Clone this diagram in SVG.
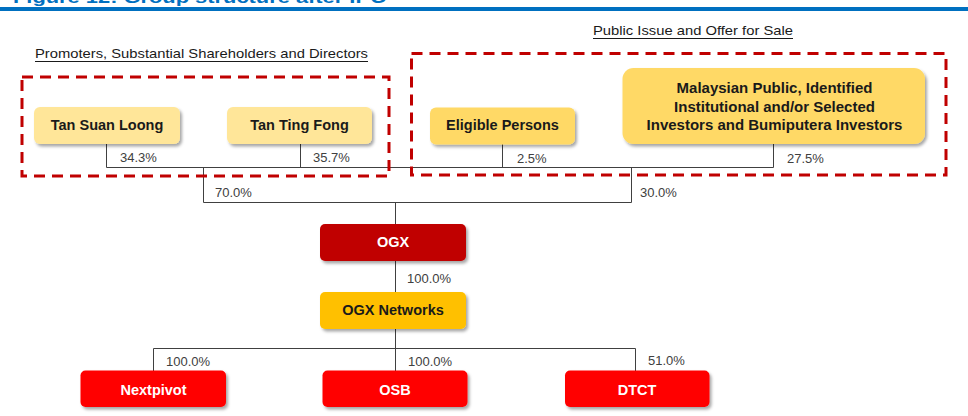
<svg xmlns="http://www.w3.org/2000/svg" width="968" height="416" viewBox="0 0 968 416">
  <defs>
    <filter id="shadow" x="-10%" y="-20%" width="125%" height="150%">
      <feDropShadow dx="2" dy="2.5" stdDeviation="1.5" flood-color="#000" flood-opacity="0.35"/>
    </filter>
  </defs>
  <style>
    .title { font-family: "Liberation Sans", Arial, sans-serif; font-weight: bold; font-size: 17px; fill: #0070C0; }
    .head { font-family: "Liberation Sans", Arial, sans-serif; font-size: 13.5px; fill: #1a1a1a; }
    .ul { stroke: #1a1a1a; stroke-width: 1; }
    .dash { fill: none; stroke: #C00000; stroke-width: 3; stroke-dasharray: 11 7; }
    .lbl { font-family: "Liberation Sans", Arial, sans-serif; font-weight: bold; font-size: 14.5px; fill: #1a1a1a; text-anchor: middle; }
    .big { font-size: 15px; }
    .wlbl { font-family: "Liberation Sans", Arial, sans-serif; font-weight: bold; font-size: 14.5px; fill: #ffffff; text-anchor: middle; }
    .pct { font-family: "Liberation Sans", Arial, sans-serif; font-size: 13px; fill: #404040; }
    .conn { fill: none; stroke: #404040; stroke-width: 1; }
    .lightY { fill: #FFE699; filter: url(#shadow); }
    .midY { fill: #FFD966; filter: url(#shadow); }
    .amber { fill: #FFC000; filter: url(#shadow); }
    .dark { fill: #C00000; filter: url(#shadow); }
    .red { fill: #FF0000; filter: url(#shadow); }
  </style>

  <rect width="968" height="416" fill="#ffffff"/>

  <!-- header (cut off at the top edge, as in the reference) -->
  <text class="title" x="13" y="2.5" textLength="374" lengthAdjust="spacingAndGlyphs">Figure 12: Group structure after IPO</text>
  <rect x="0" y="7" width="968" height="4" fill="#0070C0"/>

  <!-- group headings -->
  <g id="heading-promoters">
    <text class="head" x="35" y="58" textLength="333" lengthAdjust="spacingAndGlyphs">Promoters, Substantial Shareholders and Directors</text>
    <line class="ul" x1="35" y1="61.5" x2="368" y2="61.5"/>
  </g>
  <g id="heading-public">
    <text class="head" x="593" y="35" textLength="200" lengthAdjust="spacingAndGlyphs">Public Issue and Offer for Sale</text>
    <line class="ul" x1="593" y1="38.5" x2="793" y2="38.5"/>
  </g>

  <!-- connectors -->
  <g id="connectors">
    <path class="conn" d="M106.5,144 V167.5 M300.5,144 V167.5 M502.5,144 V167.5 M773.5,144 V167.5 M106.5,167.5 H773.5"/>
    <path class="conn" d="M203.5,167.5 V202.5 M631.5,167.5 V202.5 M203.5,202.5 H631.5 M395.5,202.5 V224"/>
    <path class="conn" d="M395.5,261 V292"/>
    <path class="conn" d="M395.5,329 V371 M153.5,348.5 H635.5 M153.5,348.5 V371 M635.5,348.5 V371"/>
    <text class="pct" x="120" y="162">34.3%</text>
    <text class="pct" x="313" y="162">35.7%</text>
    <text class="pct" x="517" y="163">2.5%</text>
    <text class="pct" x="787" y="163">27.5%</text>
    <text class="pct" x="215" y="197">70.0%</text>
    <text class="pct" x="640" y="197">30.0%</text>
    <text class="pct" x="407" y="283">100.0%</text>
    <text class="pct" x="166" y="365.5">100.0%</text>
    <text class="pct" x="408" y="365.5">100.0%</text>
    <text class="pct" x="648" y="364.5">51.0%</text>
  </g>

  <!-- dashed group boxes -->
  <rect id="box-promoters" class="dash" x="22" y="77" width="367" height="99"/>
  <rect id="box-public" class="dash" x="411.5" y="53.5" width="534.5" height="121.5"/>

  <!-- nodes -->
  <g id="tan-suan-loong">
    <rect class="lightY" x="34" y="107" width="146" height="37" rx="6"/>
    <text class="lbl" x="107" y="130">Tan Suan Loong</text>
  </g>
  <g id="tan-ting-fong">
    <rect class="lightY" x="227" y="107" width="145" height="37" rx="6"/>
    <text class="lbl" x="299.5" y="130">Tan Ting Fong</text>
  </g>
  <g id="eligible-persons">
    <rect class="midY" x="430" y="107.5" width="145" height="37" rx="6"/>
    <text class="lbl" x="502.5" y="130">Eligible Persons</text>
  </g>
  <g id="malaysian-public">
    <rect class="midY" x="622.5" y="68" width="302.5" height="76" rx="11"/>
    <text class="lbl big" x="774.5" y="93">Malaysian Public, Identified</text>
    <text class="lbl big" x="774.5" y="111.5">Institutional and/or Selected</text>
    <text class="lbl big" x="774.5" y="130">Investors and Bumiputera Investors</text>
  </g>
  <g id="ogx">
    <rect class="dark" x="320" y="224" width="146" height="37" rx="5"/>
    <text class="wlbl" x="393" y="247">OGX</text>
  </g>
  <g id="ogx-networks">
    <rect class="amber" x="320" y="292" width="146" height="37" rx="5"/>
    <text class="lbl" x="393" y="315">OGX Networks</text>
  </g>
  <g id="nextpivot">
    <rect class="red" x="80.5" y="370.5" width="145.5" height="36.5" rx="5"/>
    <text class="wlbl" x="153.5" y="395">Nextpivot</text>
  </g>
  <g id="osb">
    <rect class="red" x="322.5" y="370.5" width="145" height="36.5" rx="5"/>
    <text class="wlbl" x="395" y="395">OSB</text>
  </g>
  <g id="dtct">
    <rect class="red" x="565" y="370.5" width="144.5" height="36.5" rx="5"/>
    <text class="wlbl" x="637" y="395">DTCT</text>
  </g>
</svg>
